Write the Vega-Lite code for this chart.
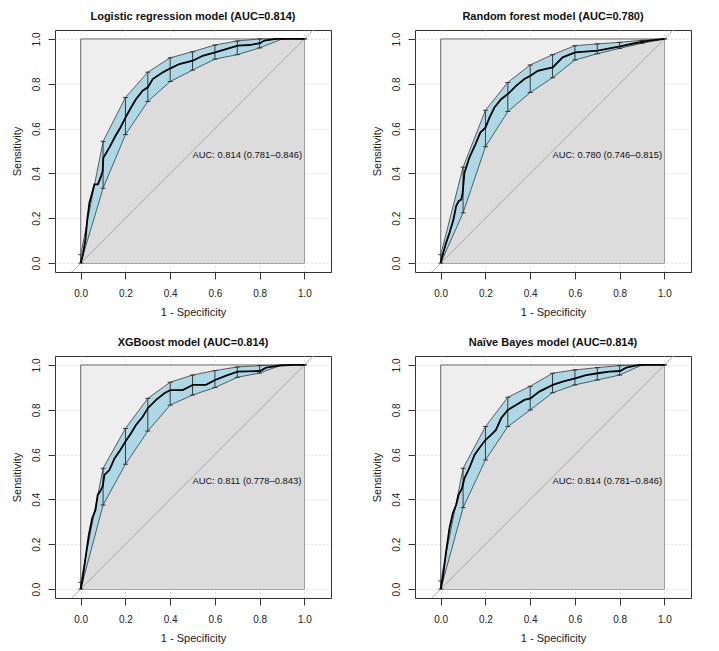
{
  "$schema": "https://vega.github.io/schema/vega-lite/v6.json",
  "padding": {"left": 10, "top": 10, "right": 5, "bottom": 5},
  "background": "white",
  "datasets": {
    "panels": [
      {"m": "LR", "title": "Logistic regression model (AUC=0.814)", "auc": "AUC: 0.814 (0.781–0.846)"},
      {"m": "RF", "title": "Random forest model (AUC=0.780)", "auc": "AUC: 0.780 (0.746–0.815)"},
      {"m": "XGB", "title": "XGBoost model (AUC=0.814)", "auc": "AUC: 0.811 (0.778–0.843)"},
      {"m": "NB", "title": "Naïve Bayes model (AUC=0.814)", "auc": "AUC: 0.814 (0.781–0.846)"}
    ],
    "main": [
      {"m": "LR", "k": "lab"},
      {"m": "RF", "k": "lab"},
      {"m": "XGB", "k": "lab"},
      {"m": "NB", "k": "lab"},

      {"m": "LR", "k": "roc", "x": 0, "y": 0},
      {"m": "LR", "k": "roc", "x": 0.009, "y": 0.033},
      {"m": "LR", "k": "roc", "x": 0.021, "y": 0.104},
      {"m": "LR", "k": "roc", "x": 0.03, "y": 0.2},
      {"m": "LR", "k": "roc", "x": 0.039, "y": 0.269},
      {"m": "LR", "k": "roc", "x": 0.051, "y": 0.313},
      {"m": "LR", "k": "roc", "x": 0.061, "y": 0.351},
      {"m": "LR", "k": "roc", "x": 0.077, "y": 0.351},
      {"m": "LR", "k": "roc", "x": 0.091, "y": 0.388},
      {"m": "LR", "k": "roc", "x": 0.098, "y": 0.41},
      {"m": "LR", "k": "roc", "x": 0.101, "y": 0.47},
      {"m": "LR", "k": "roc", "x": 0.128, "y": 0.515},
      {"m": "LR", "k": "roc", "x": 0.155, "y": 0.567},
      {"m": "LR", "k": "roc", "x": 0.177, "y": 0.604},
      {"m": "LR", "k": "roc", "x": 0.2, "y": 0.649},
      {"m": "LR", "k": "roc", "x": 0.225, "y": 0.694},
      {"m": "LR", "k": "roc", "x": 0.247, "y": 0.731},
      {"m": "LR", "k": "roc", "x": 0.277, "y": 0.769},
      {"m": "LR", "k": "roc", "x": 0.3, "y": 0.784},
      {"m": "LR", "k": "roc", "x": 0.322, "y": 0.821},
      {"m": "LR", "k": "roc", "x": 0.367, "y": 0.851},
      {"m": "LR", "k": "roc", "x": 0.401, "y": 0.869},
      {"m": "LR", "k": "roc", "x": 0.441, "y": 0.888},
      {"m": "LR", "k": "roc", "x": 0.501, "y": 0.903},
      {"m": "LR", "k": "roc", "x": 0.545, "y": 0.925},
      {"m": "LR", "k": "roc", "x": 0.601, "y": 0.94},
      {"m": "LR", "k": "roc", "x": 0.65, "y": 0.955},
      {"m": "LR", "k": "roc", "x": 0.702, "y": 0.97},
      {"m": "LR", "k": "roc", "x": 0.754, "y": 0.973},
      {"m": "LR", "k": "roc", "x": 0.802, "y": 0.981},
      {"m": "LR", "k": "roc", "x": 0.821, "y": 0.993},
      {"m": "LR", "k": "roc", "x": 0.873, "y": 1.0},
      {"m": "LR", "k": "roc", "x": 1.0, "y": 1.0},

      {"m": "LR", "k": "ci", "x": 0, "lo": 0, "hi": 0.037},
      {"m": "LR", "k": "ci", "x": 0.1, "lo": 0.334, "hi": 0.543},
      {"m": "LR", "k": "ci", "x": 0.2, "lo": 0.573, "hi": 0.739},
      {"m": "LR", "k": "ci", "x": 0.3, "lo": 0.721, "hi": 0.852},
      {"m": "LR", "k": "ci", "x": 0.4, "lo": 0.81, "hi": 0.916},
      {"m": "LR", "k": "ci", "x": 0.5, "lo": 0.861, "hi": 0.943},
      {"m": "LR", "k": "ci", "x": 0.6, "lo": 0.91, "hi": 0.973},
      {"m": "LR", "k": "ci", "x": 0.7, "lo": 0.93, "hi": 0.991},
      {"m": "LR", "k": "ci", "x": 0.8, "lo": 0.96, "hi": 1.0},
      {"m": "LR", "k": "ci", "x": 0.9, "lo": 1.0, "hi": 1.0},
      {"m": "LR", "k": "ci", "x": 1.0, "lo": 1.0, "hi": 1.0},

      {"m": "RF", "k": "roc", "x": 0, "y": 0},
      {"m": "RF", "k": "roc", "x": 0.009, "y": 0.037},
      {"m": "RF", "k": "roc", "x": 0.024, "y": 0.09},
      {"m": "RF", "k": "roc", "x": 0.039, "y": 0.134},
      {"m": "RF", "k": "roc", "x": 0.057, "y": 0.194},
      {"m": "RF", "k": "roc", "x": 0.069, "y": 0.254},
      {"m": "RF", "k": "roc", "x": 0.08, "y": 0.276},
      {"m": "RF", "k": "roc", "x": 0.092, "y": 0.284},
      {"m": "RF", "k": "roc", "x": 0.098, "y": 0.313},
      {"m": "RF", "k": "roc", "x": 0.106, "y": 0.403},
      {"m": "RF", "k": "roc", "x": 0.128, "y": 0.47},
      {"m": "RF", "k": "roc", "x": 0.155, "y": 0.53},
      {"m": "RF", "k": "roc", "x": 0.177, "y": 0.582},
      {"m": "RF", "k": "roc", "x": 0.2, "y": 0.604},
      {"m": "RF", "k": "roc", "x": 0.218, "y": 0.649},
      {"m": "RF", "k": "roc", "x": 0.24, "y": 0.694},
      {"m": "RF", "k": "roc", "x": 0.27, "y": 0.731},
      {"m": "RF", "k": "roc", "x": 0.3, "y": 0.754},
      {"m": "RF", "k": "roc", "x": 0.337, "y": 0.791},
      {"m": "RF", "k": "roc", "x": 0.374, "y": 0.821},
      {"m": "RF", "k": "roc", "x": 0.401, "y": 0.836},
      {"m": "RF", "k": "roc", "x": 0.434, "y": 0.858},
      {"m": "RF", "k": "roc", "x": 0.471, "y": 0.866},
      {"m": "RF", "k": "roc", "x": 0.501, "y": 0.873},
      {"m": "RF", "k": "roc", "x": 0.545, "y": 0.918},
      {"m": "RF", "k": "roc", "x": 0.601, "y": 0.94},
      {"m": "RF", "k": "roc", "x": 0.702, "y": 0.948},
      {"m": "RF", "k": "roc", "x": 0.802, "y": 0.967},
      {"m": "RF", "k": "roc", "x": 0.873, "y": 0.982},
      {"m": "RF", "k": "roc", "x": 0.933, "y": 0.993},
      {"m": "RF", "k": "roc", "x": 1.0, "y": 1.0},

      {"m": "RF", "k": "ci", "x": 0, "lo": 0, "hi": 0.037},
      {"m": "RF", "k": "ci", "x": 0.1, "lo": 0.224, "hi": 0.428},
      {"m": "RF", "k": "ci", "x": 0.2, "lo": 0.519, "hi": 0.682},
      {"m": "RF", "k": "ci", "x": 0.3, "lo": 0.676, "hi": 0.806},
      {"m": "RF", "k": "ci", "x": 0.4, "lo": 0.761, "hi": 0.884},
      {"m": "RF", "k": "ci", "x": 0.5, "lo": 0.827, "hi": 0.93},
      {"m": "RF", "k": "ci", "x": 0.6, "lo": 0.906, "hi": 0.97},
      {"m": "RF", "k": "ci", "x": 0.7, "lo": 0.934, "hi": 0.978},
      {"m": "RF", "k": "ci", "x": 0.8, "lo": 0.958, "hi": 0.985},
      {"m": "RF", "k": "ci", "x": 0.9, "lo": 0.981, "hi": 0.994},
      {"m": "RF", "k": "ci", "x": 1.0, "lo": 1.0, "hi": 1.0},

      {"m": "XGB", "k": "roc", "x": 0, "y": 0},
      {"m": "XGB", "k": "roc", "x": 0.009, "y": 0.048},
      {"m": "XGB", "k": "roc", "x": 0.021, "y": 0.137},
      {"m": "XGB", "k": "roc", "x": 0.036, "y": 0.241},
      {"m": "XGB", "k": "roc", "x": 0.051, "y": 0.315},
      {"m": "XGB", "k": "roc", "x": 0.066, "y": 0.353},
      {"m": "XGB", "k": "roc", "x": 0.076, "y": 0.42},
      {"m": "XGB", "k": "roc", "x": 0.086, "y": 0.435},
      {"m": "XGB", "k": "roc", "x": 0.098, "y": 0.457},
      {"m": "XGB", "k": "roc", "x": 0.106, "y": 0.509},
      {"m": "XGB", "k": "roc", "x": 0.128, "y": 0.531},
      {"m": "XGB", "k": "roc", "x": 0.151, "y": 0.583},
      {"m": "XGB", "k": "roc", "x": 0.177, "y": 0.621},
      {"m": "XGB", "k": "roc", "x": 0.2, "y": 0.658},
      {"m": "XGB", "k": "roc", "x": 0.225, "y": 0.695},
      {"m": "XGB", "k": "roc", "x": 0.247, "y": 0.732},
      {"m": "XGB", "k": "roc", "x": 0.277, "y": 0.769},
      {"m": "XGB", "k": "roc", "x": 0.3, "y": 0.807},
      {"m": "XGB", "k": "roc", "x": 0.337, "y": 0.844},
      {"m": "XGB", "k": "roc", "x": 0.374, "y": 0.874},
      {"m": "XGB", "k": "roc", "x": 0.401, "y": 0.888},
      {"m": "XGB", "k": "roc", "x": 0.456, "y": 0.888},
      {"m": "XGB", "k": "roc", "x": 0.501, "y": 0.911},
      {"m": "XGB", "k": "roc", "x": 0.56, "y": 0.911},
      {"m": "XGB", "k": "roc", "x": 0.601, "y": 0.933},
      {"m": "XGB", "k": "roc", "x": 0.65, "y": 0.952},
      {"m": "XGB", "k": "roc", "x": 0.702, "y": 0.97},
      {"m": "XGB", "k": "roc", "x": 0.802, "y": 0.973},
      {"m": "XGB", "k": "roc", "x": 0.829, "y": 0.988},
      {"m": "XGB", "k": "roc", "x": 0.888, "y": 0.997},
      {"m": "XGB", "k": "roc", "x": 0.95, "y": 1.0},
      {"m": "XGB", "k": "roc", "x": 1.0, "y": 1.0},

      {"m": "XGB", "k": "ci", "x": 0, "lo": 0, "hi": 0.03},
      {"m": "XGB", "k": "ci", "x": 0.1, "lo": 0.375, "hi": 0.539},
      {"m": "XGB", "k": "ci", "x": 0.2, "lo": 0.557, "hi": 0.717},
      {"m": "XGB", "k": "ci", "x": 0.3, "lo": 0.705, "hi": 0.851},
      {"m": "XGB", "k": "ci", "x": 0.4, "lo": 0.821, "hi": 0.923},
      {"m": "XGB", "k": "ci", "x": 0.5, "lo": 0.866, "hi": 0.955},
      {"m": "XGB", "k": "ci", "x": 0.6, "lo": 0.899, "hi": 0.975},
      {"m": "XGB", "k": "ci", "x": 0.7, "lo": 0.945, "hi": 0.991},
      {"m": "XGB", "k": "ci", "x": 0.8, "lo": 0.964, "hi": 0.997},
      {"m": "XGB", "k": "ci", "x": 0.9, "lo": 1.0, "hi": 1.0},
      {"m": "XGB", "k": "ci", "x": 1.0, "lo": 1.0, "hi": 1.0},

      {"m": "NB", "k": "roc", "x": 0, "y": 0},
      {"m": "NB", "k": "roc", "x": 0.009, "y": 0.048},
      {"m": "NB", "k": "roc", "x": 0.024, "y": 0.167},
      {"m": "NB", "k": "roc", "x": 0.039, "y": 0.271},
      {"m": "NB", "k": "roc", "x": 0.054, "y": 0.338},
      {"m": "NB", "k": "roc", "x": 0.069, "y": 0.375},
      {"m": "NB", "k": "roc", "x": 0.08, "y": 0.42},
      {"m": "NB", "k": "roc", "x": 0.095, "y": 0.449},
      {"m": "NB", "k": "roc", "x": 0.106, "y": 0.494},
      {"m": "NB", "k": "roc", "x": 0.128, "y": 0.539},
      {"m": "NB", "k": "roc", "x": 0.151, "y": 0.598},
      {"m": "NB", "k": "roc", "x": 0.177, "y": 0.635},
      {"m": "NB", "k": "roc", "x": 0.2, "y": 0.665},
      {"m": "NB", "k": "roc", "x": 0.225, "y": 0.688},
      {"m": "NB", "k": "roc", "x": 0.247, "y": 0.71},
      {"m": "NB", "k": "roc", "x": 0.27, "y": 0.762},
      {"m": "NB", "k": "roc", "x": 0.3, "y": 0.799},
      {"m": "NB", "k": "roc", "x": 0.337, "y": 0.821},
      {"m": "NB", "k": "roc", "x": 0.374, "y": 0.844},
      {"m": "NB", "k": "roc", "x": 0.401, "y": 0.851},
      {"m": "NB", "k": "roc", "x": 0.441, "y": 0.881},
      {"m": "NB", "k": "roc", "x": 0.501, "y": 0.911},
      {"m": "NB", "k": "roc", "x": 0.545, "y": 0.926},
      {"m": "NB", "k": "roc", "x": 0.601, "y": 0.94},
      {"m": "NB", "k": "roc", "x": 0.65, "y": 0.955},
      {"m": "NB", "k": "roc", "x": 0.702, "y": 0.963},
      {"m": "NB", "k": "roc", "x": 0.754, "y": 0.97},
      {"m": "NB", "k": "roc", "x": 0.802, "y": 0.973},
      {"m": "NB", "k": "roc", "x": 0.829, "y": 0.988},
      {"m": "NB", "k": "roc", "x": 0.888, "y": 1.0},
      {"m": "NB", "k": "roc", "x": 1.0, "y": 1.0},

      {"m": "NB", "k": "ci", "x": 0, "lo": 0, "hi": 0.036},
      {"m": "NB", "k": "ci", "x": 0.1, "lo": 0.363, "hi": 0.539},
      {"m": "NB", "k": "ci", "x": 0.2, "lo": 0.576, "hi": 0.725},
      {"m": "NB", "k": "ci", "x": 0.3, "lo": 0.725, "hi": 0.856},
      {"m": "NB", "k": "ci", "x": 0.4, "lo": 0.799, "hi": 0.905},
      {"m": "NB", "k": "ci", "x": 0.5, "lo": 0.876, "hi": 0.963},
      {"m": "NB", "k": "ci", "x": 0.6, "lo": 0.911, "hi": 0.978},
      {"m": "NB", "k": "ci", "x": 0.7, "lo": 0.933, "hi": 0.988},
      {"m": "NB", "k": "ci", "x": 0.8, "lo": 0.955, "hi": 0.997},
      {"m": "NB", "k": "ci", "x": 0.9, "lo": 1.0, "hi": 1.0},
      {"m": "NB", "k": "ci", "x": 1.0, "lo": 1.0, "hi": 1.0}
    ]
  },
  "data": {"name": "main"},
  "transform": [
    {"lookup": "m", "from": {"data": {"name": "panels"}, "key": "m", "fields": ["title", "auc"]}}
  ],
  "facet": {
    "field": "title",
    "type": "nominal",
    "sort": ["Logistic regression model (AUC=0.814)", "Random forest model (AUC=0.780)", "XGBoost model (AUC=0.814)", "Naïve Bayes model (AUC=0.814)"],
    "header": {
      "title": null,
      "labelFont": "Liberation Sans",
      "labelFontSize": 11,
      "labelFontWeight": "bold",
      "labelColor": "#111111",
      "labelPadding": -3,
      "labelBaseline": "bottom"
    }
  },
  "columns": 2,
  "spacing": {"column": 38, "row": 18},
  "resolve": {"axis": {"x": "independent", "y": "independent"}},
  "spec": {
    "width": 276,
    "height": 242,
    "layer": [
      {
        "transform": [{"filter": "datum.k === 'lab'"}],
        "mark": {"type": "rect", "fill": "#EEEEEE", "stroke": "#666666", "strokeWidth": 1},
        "encoding": {
          "x": {
            "datum": 0, "type": "quantitative",
            "scale": {"domain": [-0.115, 1.119], "nice": false, "zero": false},
            "axis": {
              "title": "1 - Specificity",
              "values": [0, 0.1, 0.2, 0.3, 0.4, 0.5, 0.6, 0.7, 0.8, 0.9, 1.0],
              "labelExpr": "round(datum.value * 10) % 2 === 0 ? format(datum.value, '.1f') : ''",
              "tickOpacity": {"condition": {"test": "round(datum.value * 10) % 2 === 0", "value": 1}, "value": 0},
              "tickSize": 7, "tickColor": "#333333", "tickWidth": 1,
              "domain": false,
              "grid": true, "gridDash": [1, 3], "gridColor": "#C4C4C4", "gridWidth": 1,
              "labelFont": "Liberation Sans", "labelFontSize": 10, "labelColor": "#222222", "labelPadding": 9,
              "labelFlush": false, "labelOverlap": false,
              "titleFont": "Liberation Sans", "titleFontSize": 11, "titleFontWeight": "normal", "titleColor": "#222222", "titlePadding": 8
            }
          },
          "x2": {"datum": 1},
          "y": {
            "datum": 0, "type": "quantitative",
            "scale": {"domain": [-0.04, 1.04], "nice": false, "zero": false},
            "axis": {
              "title": "Sensitivity",
              "values": [0, 0.1, 0.2, 0.3, 0.4, 0.5, 0.6, 0.7, 0.8, 0.9, 1.0],
              "labelExpr": "round(datum.value * 10) % 2 === 0 ? format(datum.value, '.1f') : ''",
              "tickOpacity": {"condition": {"test": "round(datum.value * 10) % 2 === 0", "value": 1}, "value": 0},
              "tickSize": 7, "tickColor": "#333333", "tickWidth": 1,
              "domain": false,
              "grid": true, "gridDash": [1, 3], "gridColor": "#C4C4C4", "gridWidth": 1,
              "labelAngle": 270, "labelAlign": "center", "labelBaseline": "bottom",
              "labelFont": "Liberation Sans", "labelFontSize": 10, "labelColor": "#222222", "labelPadding": 7,
              "labelFlush": false, "labelOverlap": false,
              "titleFont": "Liberation Sans", "titleFontSize": 11, "titleFontWeight": "normal", "titleColor": "#222222", "titlePadding": 9
            }
          },
          "y2": {"datum": 1}
        }
      },
      {
        "transform": [{"filter": "datum.k === 'roc'"}],
        "mark": {"type": "area", "fill": "#DCDCDC", "opacity": 1},
        "encoding": {
          "x": {"field": "x", "type": "quantitative"},
          "y": {"field": "y", "type": "quantitative"},
          "y2": {"datum": 0}
        }
      },
      {
        "transform": [{"filter": "datum.k === 'lab'"}],
        "mark": {"type": "rule", "stroke": "#A8A8A8", "strokeWidth": 1},
        "encoding": {
          "x": {"datum": -0.04, "type": "quantitative"},
          "y": {"datum": -0.04, "type": "quantitative"},
          "x2": {"datum": 1.04},
          "y2": {"datum": 1.04}
        }
      },
      {
        "transform": [{"filter": "datum.k === 'ci'"}],
        "mark": {"type": "area", "fill": "#ADD8E6", "opacity": 1},
        "encoding": {
          "x": {"field": "x", "type": "quantitative"},
          "y": {"field": "lo", "type": "quantitative"},
          "y2": {"field": "hi"}
        }
      },
      {
        "transform": [{"filter": "datum.k === 'ci'"}],
        "mark": {"type": "line", "stroke": "#3A3A3A", "strokeWidth": 0.8},
        "encoding": {
          "x": {"field": "x", "type": "quantitative"},
          "y": {"field": "lo", "type": "quantitative"}
        }
      },
      {
        "transform": [{"filter": "datum.k === 'ci'"}],
        "mark": {"type": "line", "stroke": "#3A3A3A", "strokeWidth": 0.8},
        "encoding": {
          "x": {"field": "x", "type": "quantitative"},
          "y": {"field": "hi", "type": "quantitative"}
        }
      },
      {
        "transform": [{"filter": "datum.k === 'ci'"}],
        "mark": {"type": "rule", "stroke": "#2A2A2A", "strokeWidth": 0.9},
        "encoding": {
          "x": {"field": "x", "type": "quantitative"},
          "y": {"field": "lo", "type": "quantitative"},
          "y2": {"field": "hi"}
        }
      },
      {
        "transform": [{"filter": "datum.k === 'ci'"}, {"fold": ["lo", "hi"], "as": ["bound", "v"]}],
        "mark": {"type": "tick", "orient": "horizontal", "size": 5, "thickness": 0.9, "color": "#2A2A2A", "opacity": 1},
        "encoding": {
          "x": {"field": "x", "type": "quantitative"},
          "y": {"field": "v", "type": "quantitative"}
        }
      },
      {
        "transform": [{"filter": "datum.k === 'roc'"}],
        "mark": {"type": "line", "stroke": "#000000", "strokeWidth": 1.8},
        "encoding": {
          "x": {"field": "x", "type": "quantitative"},
          "y": {"field": "y", "type": "quantitative"}
        }
      },
      {
        "transform": [{"filter": "datum.k === 'lab'"}],
        "mark": {"type": "text", "align": "left", "baseline": "top", "font": "Liberation Sans", "fontSize": 9.4, "color": "#111111"},
        "encoding": {
          "x": {"datum": 0.5, "type": "quantitative"},
          "y": {"datum": 0.5, "type": "quantitative"},
          "text": {"field": "auc"}
        }
      }
    ]
  },
  "config": {
    "font": "Liberation Sans",
    "view": {"stroke": "#333333", "strokeWidth": 1}
  }
}
